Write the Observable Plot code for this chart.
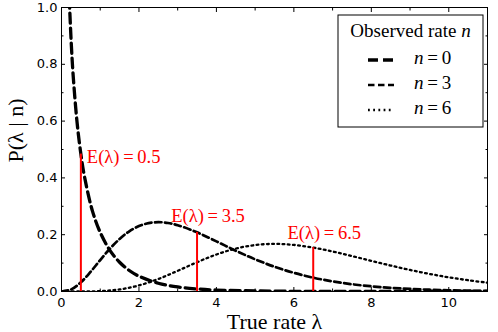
<!DOCTYPE html>
<html><head><meta charset="utf-8">
<script src="https://cdn.jsdelivr.net/npm/d3@7"></script>
<script src="https://cdn.jsdelivr.net/npm/@observablehq/plot@0.6"></script>
<style>body{margin:0;background:#fff} svg{display:block}</style>
</head><body><div id="chart"></div>
<script>
// ---- data ----
const nObs = [0, 3, 6];
const lam0 = [0.2,0.25,0.3,0.4,0.5,0.6,0.8,1,1.25,1.5,1.75,2,2.5,3,3.5,4,5,6,7,8,9,10,11];
const p0   = [1.033,0.879,0.763,0.598,0.484,0.400,0.283,0.208,0.145,0.103,0.074,0.054,0.029,0.016,0.009,0.005,0.002,0.0006,0.0002,0.0001,0,0,0];
const lam3 = [0,0.25,0.5,0.75,1,1.25,1.5,1.75,2,2.25,2.5,2.75,3,3.5,4,4.5,5,5.5,6,6.5,7,7.5,8,8.5,9,9.5,10,10.5,11];
const p3   = [0,0.0073,0.0323,0.0692,0.1107,0.1506,0.1850,0.2118,0.2304,0.2408,0.2441,0.2412,0.2335,0.2082,0.1764,0.1436,0.1133,0.0872,0.0658,0.0487,0.0356,0.0256,0.0183,0.0129,0.0090,0.0063,0.0043,0.0030,0.0020];
const lam6 = [0,0.5,1,1.5,2,2.5,3,3.5,4,4.5,5,5.5,6,6.5,7,7.5,8,8.5,9,9.5,10,10.5,11];
const p6   = [0,0.0001,0.0013,0.0072,0.0213,0.0440,0.0728,0.1031,0.1303,0.1511,0.1636,0.1676,0.1640,0.1545,0.1409,0.1249,0.1080,0.0914,0.0759,0.0620,0.0499,0.0396,0.0310];
const means   = [0.5, 3.5, 6.5];
const pAtMean = [0.4839, 0.2082, 0.1545];
const meanLabels = ["E(λ)\u2009=\u20090.5", "E(λ)\u2009=\u20093.5", "E(λ)\u2009=\u20096.5"];
const xTicks = [0,2,4,6,8,10], xMinor = [1,3,5,7,9,11];
const yTicks = [0,0.2,0.4,0.6,0.8,1.0], yMinor = [0.1,0.3,0.5,0.7,0.9];
const xLabel = "True rate λ", yLabel = "P(λ | n)", legendTitle = "Observed rate n";

// ---- styles ----
const styles = [{w:3.3, dash:"10,5"}, {w:2.7, dash:"6.5,3.5"}, {w:2.3, dash:"1.8,3.4"}];
const labelOffsets = [{anchor:"start", dx:6, dy:3}, {anchor:"middle", dx:11, dy:-16}, {anchor:"middle", dx:11, dy:-15}];
const serif = "'Liberation Serif', serif";
const sans = "'DejaVu Sans', sans-serif";

const curves = [[lam0,p0],[lam3,p3],[lam6,p6]].map(([l,p]) => l.map((x,i) => ({x, y:p[i]})));
const meanData = means.map((m,i) => ({m, p:pAtMean[i], label:meanLabels[i]}));

const marks = [];
curves.forEach((c,k) => marks.push(Plot.line(c, {x:"x", y:"y", stroke:"black", strokeWidth:styles[k].w,
  strokeDasharray:styles[k].dash, curve:"catmull-rom", clip:true})));
marks.push(Plot.ruleX(meanData, {x:"m", y1:0, y2:"p", stroke:"red", strokeWidth:2}));
meanData.forEach((d,i) => marks.push(Plot.text([d], {x:"m", y:"p", text:"label", fill:"red",
  textAnchor:labelOffsets[i].anchor, dx:labelOffsets[i].dx, dy:labelOffsets[i].dy,
  fontFamily:serif, fontSize:18.5, ariaLabel:"mathlabel"})));
const blank = () => "";
marks.push(
  Plot.axisX(xTicks, {anchor:"bottom", tickSize:4, dy:-4, tickFormat:blank, label:null}),
  Plot.axisX(xMinor, {anchor:"bottom", tickSize:2.5, dy:-2.5, tickFormat:blank, label:null}),
  Plot.axisX(xTicks, {anchor:"top", tickSize:4, dy:4, tickFormat:blank, label:null}),
  Plot.axisX(xMinor, {anchor:"top", tickSize:2.5, dy:2.5, tickFormat:blank, label:null}),
  Plot.axisY(yTicks, {anchor:"left", tickSize:4, dx:4, tickFormat:blank, label:null}),
  Plot.axisY(yMinor, {anchor:"left", tickSize:2.5, dx:2.5, tickFormat:blank, label:null}),
  Plot.axisY(yTicks, {anchor:"right", tickSize:4, dx:-4, tickFormat:blank, label:null}),
  Plot.axisY(yMinor, {anchor:"right", tickSize:2.5, dx:-2.5, tickFormat:blank, label:null}),
  Plot.axisX(xTicks, {anchor:"bottom", tickSize:0, tickPadding:6, tickFormat:d3.format("d"), label:null, fontSize:13, fontFamily:sans, fill:"black"}),
  Plot.axisY(yTicks, {anchor:"left", tickSize:0, tickPadding:4, tickFormat:d3.format(".1f"), label:null, fontSize:13, fontFamily:sans, fill:"black"}),
  Plot.frame({stroke:"black", strokeWidth:1}),
  Plot.text([xLabel], {frameAnchor:"bottom", lineAnchor:"middle", dy:30, fontFamily:serif, fontSize:22, fill:"black", ariaLabel:"mathlabel"}),
  Plot.text([yLabel], {frameAnchor:"left", lineAnchor:"middle", rotate:-90, dx:-46, dy:13, fontFamily:serif, fontSize:22, fill:"black", ariaLabel:"mathlabel"})
);

const plot = Plot.plot({
  width:498, height:332, marginLeft:61, marginRight:11, marginTop:7, marginBottom:41,
  x:{domain:[0,11], axis:null}, y:{domain:[0,1], axis:null},
  style:{background:"white", color:"black", overflow:"visible"},
  marks
});
document.getElementById("chart").append(plot);

// italicise math symbols (λ, standalone n)
function mathify(el) {
  const s = el.textContent;
  d3.select(el).text(null);
  const parts = [];
  for (let i = 0; i < s.length; i++) {
    const ch = s[i];
    const isSym = ch === "λ" || (ch === "n" && !/[a-zA-Z]/.test(s[i-1] || "") && !/[a-zA-Z]/.test(s[i+1] || ""));
    parts.push({t:ch, it:isSym});
  }
  const merged = [];
  parts.forEach(p => { const l = merged[merged.length-1]; if (l && l.it === p.it) l.t += p.t; else merged.push({...p}); });
  merged.forEach(p => d3.select(el).append("tspan").attr("font-family", serif)
    .attr("font-style", p.it ? "italic" : null).text(p.t));
}
d3.select(plot).selectAll('g[aria-label="mathlabel"] text').each(function(){ mathify(this); });
d3.select(plot).selectAll('g[aria-label="mathlabel"]').attr("letter-spacing", "0.4px");

// legend
const svg = d3.select(plot);
const lg = svg.append("g");
const bx = 338, by = 15, bw = 145, bh = 112;
lg.append("rect").attr("x", bx).attr("y", by).attr("width", bw).attr("height", bh)
  .attr("fill", "white").attr("stroke", "black").attr("stroke-width", 1);
const tt = lg.append("text").attr("x", bx + bw/2).attr("y", 33).attr("text-anchor", "middle")
  .attr("dominant-baseline", "middle").attr("font-family", serif).attr("font-size", 19).text(legendTitle);
mathify(tt.node());
const rowY = [60, 85, 110];
nObs.forEach((n,k) => {
  lg.append("line").attr("x1", 368).attr("x2", 394).attr("y1", rowY[k]).attr("y2", rowY[k])
    .attr("stroke", "black").attr("stroke-width", styles[k].w).attr("stroke-dasharray", styles[k].dash);
  const t = lg.append("text").attr("x", 414).attr("y", rowY[k]).attr("dominant-baseline", "middle")
    .attr("text-anchor", "start")
    .attr("font-family", serif).attr("font-size", 19).text(`n\u2009=\u2009${n}`);
  mathify(t.node());
});
</script></body></html>
